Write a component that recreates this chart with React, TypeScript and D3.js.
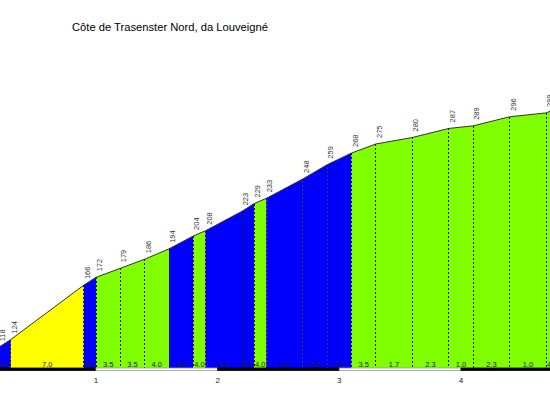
import * as d3 from 'd3'

// climb profile: distance (km), elevation (m), gradient per segment (%)
const distances = [0.2, 0.3, 0.9, 1.0, 1.2, 1.4, 1.6, 1.8, 1.9, 2.2, 2.3, 2.4, 2.7, 2.9, 3.1, 3.3, 3.6, 3.9, 4.1, 4.4, 4.7, 4.8]
const elevations = [118, 124, 166, 172, 179, 186, 194, 204, 208, 223, 229, 233, 248, 259, 268, 275, 280, 287, 289, 296, 299, 303]
const gradients = ['6.0', '7.0', '6.0', '3.5', '3.5', '4.0', '5.0', '4.0', '5.0', '6.0', '4.0', '5.0', '5.5', '4.5', '3.5', '1.7', '2.3', '1.0', '2.3', '1.0', '4.0']
const kmTicks = [1, 2, 3, 4]
const kmBands = [0, 1, 2, 3, 4]

const title = 'Côte de Trasenster Nord, da Louveigné'

const W = 550
const H = 400
const font = 'Arial, "Liberation Sans", sans-serif'

function gradientColor(g: number) {
  if (g > 6) return '#ffff00'
  if (g > 4) return '#0000ff'
  return '#80ff00'
}

export default function App() {
  const x = d3.scaleLinear().domain([1, 4]).range([96, 461])
  const y = d3.scaleLinear().domain([102, 300]).range([368, 111.6])
  const base = y(102)

  const points = distances.map((d, i) => ({ d, e: elevations[i] }))

  const line = d3
    .line<{ d: number; e: number }>()
    .x((p) => x(p.d))
    .y((p) => y(p.e))

  const segments = gradients.map((g, i) => {
    const a = points[i]
    const b = points[i + 1]
    const area = d3
      .area<{ d: number; e: number }>()
      .x((p) => x(p.d))
      .y0(base)
      .y1((p) => y(p.e))
    return { g, a, b, path: area([a, b]) || '' }
  })

  return (
    <svg
      width={W}
      height={H}
      style={{ position: 'absolute', left: 0, top: 0, background: '#fff' }}
      fontFamily={font}
    >
      <text x={72} y={30.5} fontSize={11.2} fill="#000">
        {title}
      </text>

      {/* coloured segments */}
      {segments.map((s, i) => (
        <path key={'s' + i} d={s.path} fill={gradientColor(+s.g)} />
      ))}

      {/* dotted verticals */}
      {points.slice(1).map((p, i) => (
        <line
          key={'v' + i}
          x1={x(p.d)}
          x2={x(p.d)}
          y1={y(p.e)}
          y2={base}
          stroke="#1a1a1a"
          strokeWidth={1}
          strokeDasharray="2,2"
          shapeRendering="crispEdges"
        />
      ))}

      {/* profile outline */}
      <path d={line(points) || ''} fill="none" stroke="#333" strokeWidth={1} />

      {/* elevation labels */}
      {points.map((p, i) => (
        <text
          key={'e' + i}
          transform={`translate(${x(p.d) + 3.5},${y(p.e) - 6}) rotate(-90)`}
          dy="0.35em"
          fontSize={7.5}
          fill="#333"
        >
          {p.e}
        </text>
      ))}

      {/* gradient labels */}
      {segments.map((s, i) => (
        <text
          key={'g' + i}
          x={(x(s.a.d) + x(s.b.d)) / 2}
          y={366.5}
          textAnchor="middle"
          fontSize={7.5}
          fill="#222"
        >
          {s.g}
        </text>
      ))}

      {/* km bar */}
      {kmBands.map((k) => (
        <rect
          key={'k' + k}
          x={x(k)}
          y={base}
          width={x(k + 1) - x(k)}
          height={2.5}
          fill={k % 2 === 0 ? '#000' : '#fff'}
          stroke={k % 2 === 0 ? '#000' : '#999'}
          strokeWidth={0.8}
        />
      ))}
      {kmTicks.map((k) => (
        <text key={'t' + k} x={x(k)} y={383} textAnchor="middle" fontSize={8} fill="#222">
          {k}
        </text>
      ))}
    </svg>
  )
}
